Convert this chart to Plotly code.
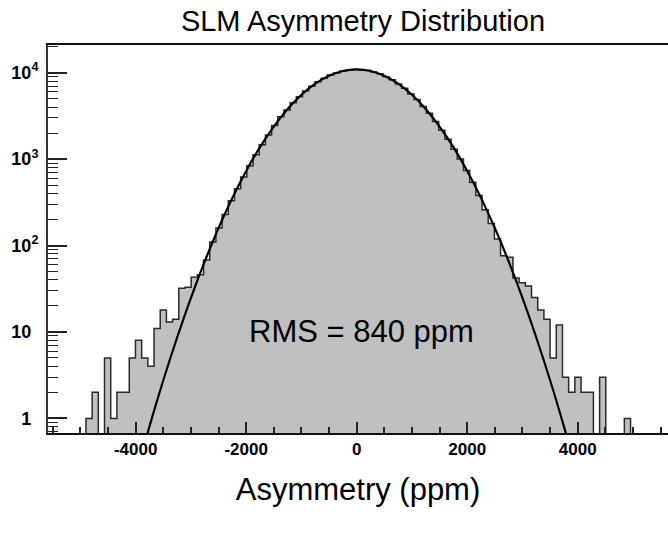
import numpy as np
import plotly.graph_objects as go

# ---- data ----
bin_start = -4900      # ppm, left edge of first bin
bin_width = 112        # ppm
counts = [1, 2, 0, 5, 1, 2, 2, 5, 8, 5, 4, 11, 18, 13, 14, 32, 33, 43, 46, 68,
          110, 160, 228, 330, 455, 620, 840, 1120, 1470, 1900,
          2440, 3080, 3700, 4500, 5250, 6150, 6950, 7850, 8600, 9380, 9940, 10480, 10720, 10910,
          10820, 10650, 10190, 9700, 8970, 8260, 7380, 6580, 5660, 4890, 4070, 3400, 2720,
          2150, 1700, 1300, 1000, 740, 540, 380, 260,
          180, 119, 76, 73, 42, 37, 34, 25, 18, 14, 5, 12, 3, 2, 3, 2, 2, 0, 3, 0, 0, 0, 1]

fit_x = [-4000, -3750, -3500, -3250, -3000, -2750, -2500, -2250, -2000, -1750, -1500,
         -1250, -1000, -750, -500, -250, 0, 250, 500, 750, 1000, 1250, 1500, 1750,
         2000, 2250, 2500, 2750, 3000, 3250, 3500, 3750, 4000]
fit_y = [0.218, 0.809, 2.76, 8.63, 24.8, 65.6, 159.3, 355.7, 729.6, 1375, 2381,
         3791, 5544, 7452, 9205, 10449, 10900, 10449, 9205, 7452, 5544, 3791, 2381, 1375,
         729.6, 355.7, 159.3, 65.6, 24.8, 8.63, 2.76, 0.809, 0.218]

x_ticks = [-4000, -2000, 0, 2000, 4000]
x_ticktext = ["-4000", "-2000", "0", "2000", "4000"]
y_ticks = [1, 10, 100, 1000, 10000]
y_ticktext = ["1", "10", "10<sup>2</sup>", "10<sup>3</sup>", "10<sup>4</sup>"]

title_text = "SLM Asymmetry Distribution"
xlabel_text = "Asymmetry (ppm)"
rms_text = "RMS = 840 ppm"

# ---- build step outline ----
edges = bin_start + bin_width * np.arange(len(counts) + 1)
floor = 0.1
ys = [c if c > 0 else floor for c in counts]
step_x = [edges[0]] + list(edges[:-1]) + [edges[-1], edges[-1]]
step_y = [floor] + ys + [ys[-1], floor]

FONT = "Liberation Sans, Arial, sans-serif"

fig = go.Figure()
fig.add_trace(go.Scatter(
    x=step_x, y=step_y, mode="lines", line=dict(shape="hv", color="#2a2a2a", width=1.5),
    fill="toself", fillcolor="#c0c0c0", hoverinfo="skip", showlegend=False))
fig.add_trace(go.Scatter(
    x=fit_x, y=fit_y, mode="lines", line=dict(shape="spline", color="black", width=2.2),
    showlegend=False, hoverinfo="skip"))

hidden_sup = "<sup><span style='color:rgba(0,0,0,0)'>4</span></sup>"
ytext = [t if "sup" in t else t + hidden_sup for t in y_ticktext]
minor_vals = [m * 10 ** d for d in range(-1, 5) for m in range(2, 10)]

fig.update_layout(
    width=668, height=533,
    margin=dict(l=48, r=0, t=45, b=100),
    paper_bgcolor="white", plot_bgcolor="white",
    font=dict(family=FONT, color="black"),
    title=dict(text=title_text, x=0.5434, xanchor="center", y=0.9606, yanchor="middle",
               font=dict(family=FONT, size=29, color="black")),
    xaxis=dict(range=[-5587, 5634], tickvals=x_ticks, ticktext=x_ticktext,
               ticks="inside", ticklen=11, automargin=False,
               tickwidth=1.5, tickcolor="#222", showline=True, linecolor="#111", linewidth=2,
               mirror=True, showgrid=False, zeroline=False,
               tickfont=dict(family=FONT, size=17, weight="bold", color="black"),
               minor=dict(dtick=500, tick0=0, ticks="inside", ticklen=6, tickwidth=1.5,
                          tickcolor="#222", showgrid=False),
               title=dict(text=xlabel_text, font=dict(family=FONT, size=31, color="black"),
                          standoff=20)),
    yaxis=dict(type="log", range=[-0.169, 4.32], tickvals=y_ticks, ticktext=ytext,
               ticks="inside", ticklen=19, tickwidth=1.5, tickcolor="#222", automargin=False,
               showline=True, linecolor="#333", linewidth=2, mirror=False,
               showgrid=False, zeroline=False, ticklabelstandoff=4,
               tickfont=dict(family=FONT, size=18, weight="bold", color="black"),
               minor=dict(tickvals=minor_vals, ticks="inside", ticklen=10, tickwidth=1.2,
                          tickcolor="#222", showgrid=False)),
    annotations=[dict(text=rms_text, xref="paper", yref="paper", x=0.506, y=0.261,
                      xanchor="center", yanchor="middle", showarrow=False,
                      font=dict(family=FONT, size=31, color="black"))],
)

# remove the browser's default 8px page margin so the figure sits at the window origin
fig.write_html("out.html", config={"displayModeBar": False},
               post_script="document.body.style.margin='0';document.body.style.overflow='hidden';")
